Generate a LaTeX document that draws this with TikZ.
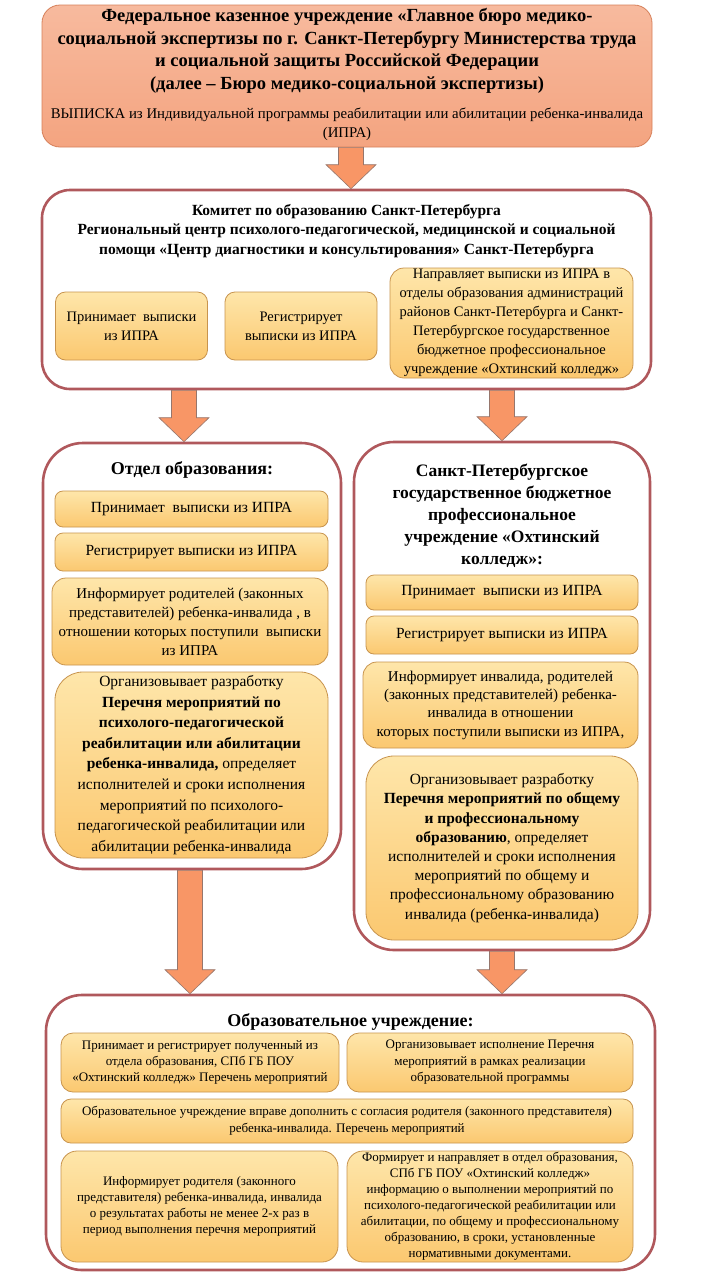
\documentclass[tikz,border=0pt]{standalone}
\usepackage{fontspec}
\setmainfont{Liberation Serif}
\usetikzlibrary{calc}
\definecolor{contline}{RGB}{176,88,92}
\definecolor{subline}{RGB}{200,148,78}
\definecolor{subtop}{RGB}{254,230,170}
\definecolor{subbot}{RGB}{251,200,112}
\definecolor{toptop}{RGB}{247,186,158}
\definecolor{topbot}{RGB}{244,164,128}
\definecolor{topline}{RGB}{214,128,90}
\definecolor{arrfill}{RGB}{248,150,102}
\definecolor{arrline}{RGB}{150,118,108}
\newcommand\myfs[2]{\fontsize{#1}{#2}\selectfont}
\tikzset{
  cont/.style={draw=contline, line width=2.6pt, fill=white, rounded corners=#1, inner sep=0pt},
  cont/.default=30pt,
  subbox/.style={draw=subline, line width=0.8pt, top color=subtop, bottom color=subbot, rounded corners=#1, inner sep=1pt, align=center},
  subbox/.default=8pt,
  topbox/.style={draw=topline, line width=0.8pt, top color=toptop, bottom color=topbot, rounded corners=18pt, inner sep=0pt},
  ttl/.style={align=center, inner sep=0pt},
  bigarrow/.style={draw=arrline, line width=0.6pt, fill=arrfill,
    to path={let \p1=(\tikztostart), \p2=(\tikztotarget) in
      (\x1-12.5,\y1) -- (\x1-12.5,\y2+24) -- (\x1-25,\y2+24) -- (\x1,\y2) --
      (\x1+25,\y2+24) -- (\x1+12.5,\y2+24) -- (\x1+12.5,\y1) -- cycle}}
}
\begin{document}
\begin{tikzpicture}[x=1pt,y=-1pt]
\useasboundingbox[fill=white] (0,0) rectangle (720,1280);

% ---- top box
\node[topbox, minimum width=610pt, minimum height=142pt] (top) at (347,76) {};
\node[ttl, font=\myfs{18.5}{22.5}\bfseries] (toptitle) at (347,51)
 {Федеральное казенное учреждение «Главное бюро медико-\\социальной экспертизы по г. Санкт-Петербургу Министерства труда\\и социальной защиты Российской Федерации\\(далее – Бюро медико-социальной экспертизы)};
\node[ttl, font=\myfs{14.8}{19.5}] (toptext) at (347,124.5)
 {ВЫПИСКА из Индивидуальной программы реабилитации или абилитации ребенка-инвалида\\(ИПРА)};

% ---- committee box
\node[cont=28pt, minimum width=609pt, minimum height=199pt] (kom) at (346.5,289.5) {};
\node[ttl, font=\myfs{15.5}{19.5}\bfseries] (komtitle) at (346.5,231)
 {Комитет по образованию Санкт-Петербурга\\Региональный центр психолого-педагогической, медицинской и социальной\\помощи «Центр диагностики и консультирования» Санкт-Петербурга};
\node[subbox=10pt, minimum width=152pt, minimum height=68pt, font=\myfs{14.5}{19}] (ka) at (131.5,326)
 {Принимает~ выписки\\из ИПРА};
\node[subbox=10pt, minimum width=152pt, minimum height=68pt, font=\myfs{14.5}{19}] (kb) at (301,326)
 {Регистрирует\\выписки из ИПРА};
\node[subbox=14pt, minimum width=243pt, minimum height=110pt, font=\myfs{14.5}{19}] (kc) at (511.5,323)
 {Направляет выписки из ИПРА в\\отделы образования администраций\\районов Санкт-Петербурга и Санкт-\\Петербургское государственное\\бюджетное профессиональное\\учреждение «Охтинский колледж»};

% ---- left column
\node[cont=40pt, minimum width=298pt, minimum height=426pt] (otd) at (192,656) {};
\node[ttl, font=\myfs{18}{22}\bfseries] (otdtitle) at (192,470) {Отдел образования:};
\node[subbox=8pt, minimum width=273pt, minimum height=36pt, font=\myfs{15.5}{19}] (oa) at (191.5,509)
 {Принимает~ выписки из ИПРА};
\node[subbox=8pt, minimum width=273pt, minimum height=38pt, font=\myfs{15.5}{19}] (ob) at (191.5,552)
 {Регистрирует выписки из ИПРА};
\node[subbox=14pt, minimum width=276pt, minimum height=87pt, font=\myfs{15}{19}] (oc) at (190,621.5)
 {Информирует родителей (законных\\представителей) ребенка-инвалида , в\\отношении которых поступили~ выписки\\из ИПРА};
\node[subbox=28pt, minimum width=273pt, minimum height=186pt, font=\myfs{15.5}{20.6}] (od) at (191.5,765)
 {Организовывает разработку\\\textbf{Перечня мероприятий по}\\\textbf{психолого-педагогической}\\\textbf{реабилитации или абилитации}\\\textbf{ребенка-инвалида,} определяет\\исполнителей и сроки исполнения\\мероприятий по психолого-\\педагогической реабилитации или\\абилитации ребенка-инвалида};

% ---- right column
\node[cont=40pt, minimum width=296pt, minimum height=508pt] (okh) at (502,696) {};
\node[ttl, font=\myfs{17.5}{22}\bfseries] (okhtitle) at (502,515.5)
 {Санкт-Петербургское\\государственное бюджетное\\профессиональное\\учреждение «Охтинский\\колледж»:};
\node[subbox=8pt, minimum width=272pt, minimum height=35pt, font=\myfs{15.5}{19}] (ra) at (502,592.5)
 {Принимает~ выписки из ИПРА};
\node[subbox=8pt, minimum width=272pt, minimum height=38pt, font=\myfs{15.5}{19}] (rb) at (502,635)
 {Регистрирует выписки из ИПРА};
\node[subbox=14pt, minimum width=275pt, minimum height=86pt, font=\myfs{15}{18.3}] (rc) at (500.5,705)
 {Информирует инвалида, родителей\\(законных представителей) ребенка-\\инвалида в отношении\\которых поступили выписки из ИПРА,};
\node[subbox=28pt, minimum width=272pt, minimum height=184pt, font=\myfs{15.5}{19.2}] (rd) at (502,848)
 {Организовывает разработку\\\textbf{Перечня мероприятий по общему}\\\textbf{и профессиональному}\\\textbf{образованию}, определяет\\исполнителей и сроки исполнения\\мероприятий по общему и\\профессиональному образованию\\инвалида (ребенка-инвалида)};

% ---- bottom box
\node[cont=36pt, minimum width=609pt, minimum height=275pt] (obr) at (350.5,1132.5) {};
\node[ttl, font=\myfs{18}{22}\bfseries] (obrtitle) at (350.5,1022) {Образовательное учреждение:};
\node[subbox=12pt, minimum width=278pt, minimum height=59pt, font=\myfs{13}{15.8}] (ea) at (200,1062.5)
 {Принимает и регистрирует полученный из\\отдела образования, СПб ГБ ПОУ\\«Охтинский колледж» Перечень мероприятий};
\node[subbox=12pt, minimum width=286pt, minimum height=59pt, font=\myfs{13}{16.5}] (eb) at (490,1062.5)
 {Организовывает исполнение Перечня\\мероприятий в рамках реализации\\образовательной программы};
\node[subbox=10pt, minimum width=572pt, minimum height=44pt, font=\myfs{13}{17}] (ec) at (347,1121)
 {Образовательное учреждение вправе дополнить с согласия родителя (законного представителя)\\ребенка-инвалида. Перечень мероприятий};
\node[subbox=16pt, minimum width=277pt, minimum height=111pt, font=\myfs{13}{16}] (ed) at (199.5,1206.5)
 {Информирует родителя (законного\\представителя) ребенка-инвалида, инвалида\\о результатах работы не менее 2-х раз в\\период выполнения перечня мероприятий};
\node[subbox=16pt, minimum width=286pt, minimum height=111pt, font=\myfs{13}{16}] (ee) at (490,1206.5)
 {Формирует и направляет в отдел образования,\\СПб ГБ ПОУ «Охтинский колледж»\\информацию о выполнении мероприятий по\\психолого-педагогической реабилитации или\\абилитации, по общему и профессиональному\\образованию, в сроки, установленные\\нормативными документами.};

% ---- arrows
\coordinate (ax1) at (351,0);
\coordinate (ax2) at (184,0);
\coordinate (ax3) at (502,0);
\coordinate (ax4) at (190,0);
\draw[bigarrow] (top.south -| ax1) to (kom.north -| ax1);
\draw[bigarrow] (kom.south -| ax2) to (otd.north -| ax2);
\draw[bigarrow] (kom.south -| ax3) to (okh.north -| ax3);
\draw[bigarrow] (otd.south -| ax4) to (obr.north -| ax4);
\draw[bigarrow] (okh.south -| ax3) to (obr.north -| ax3);
\end{tikzpicture}
\end{document}
